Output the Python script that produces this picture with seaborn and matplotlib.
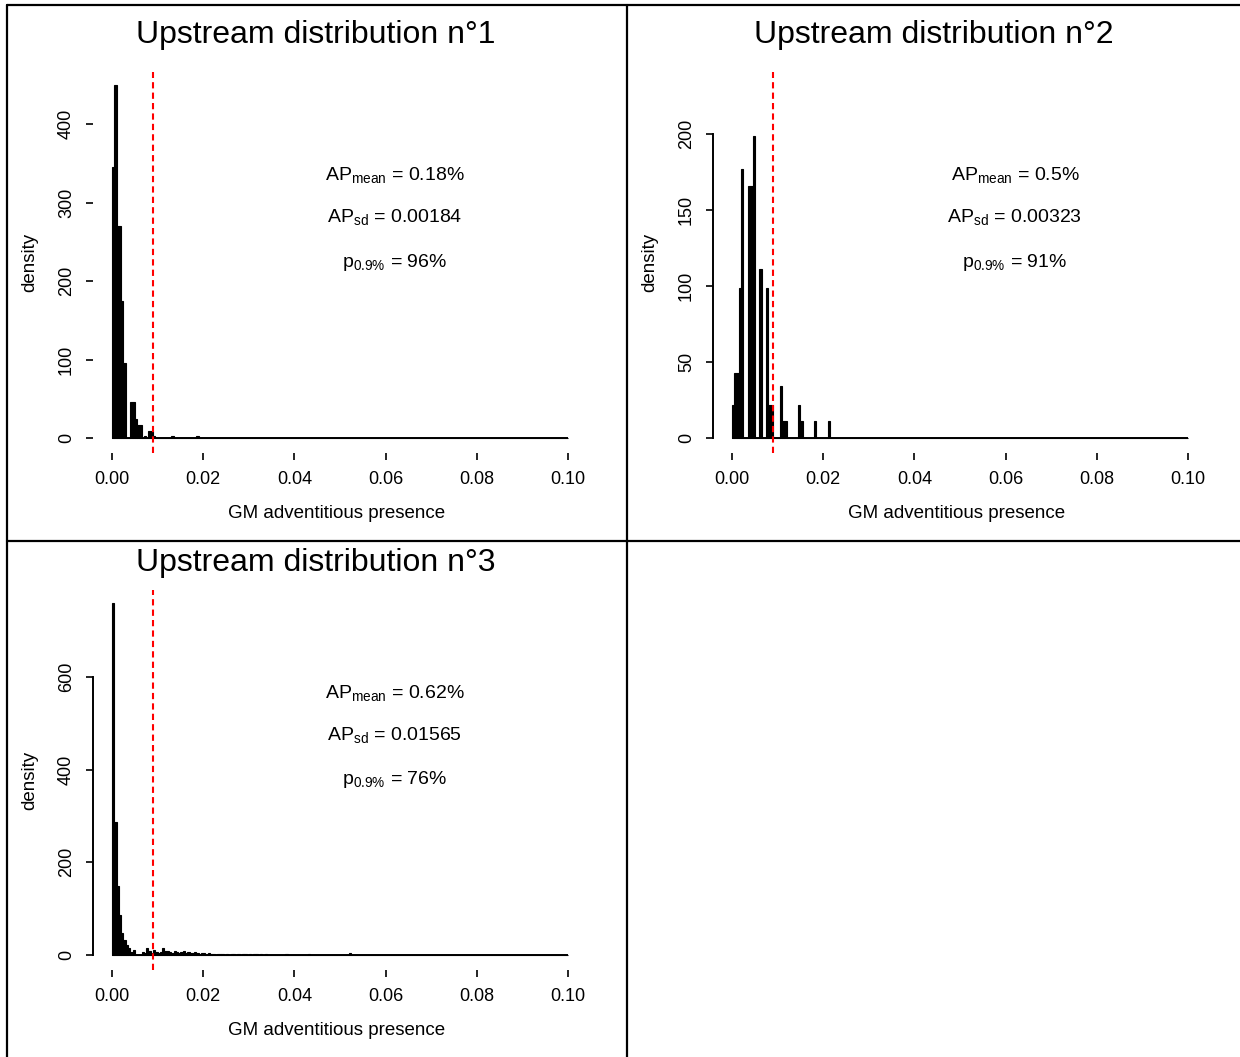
import numpy as np
import pandas as pd
import matplotlib
matplotlib.use("Agg")
import matplotlib.pyplot as plt
import seaborn as sns
from matplotlib.lines import Line2D

# ---------------- data ----------------
bin_width = 0.0005
x_ticks = [0.00, 0.02, 0.04, 0.06, 0.08, 0.10]
x_tick_labels = ["0.00", "0.02", "0.04", "0.06", "0.08", "0.10"]
threshold = 0.009

titles = ["Upstream distribution n°1", "Upstream distribution n°2", "Upstream distribution n°3"]

# panel 1 (bin index of 0.0005-wide bins -> density)
p1_bin_index = [0, 1, 2, 3, 4, 5, 8, 9, 10, 11, 12, 14, 16, 17, 18, 26, 37]
p1_density = [345, 450, 270, 270, 175, 96, 46, 46, 24, 17, 17, 3, 9, 9, 3, 2, 2]
p1_yticks = [0, 100, 200, 300, 400]
p1_stats = ["0.18%", "0.00184", "96%"]

# panel 2
p2_bin_index = [0, 1, 2, 3, 4, 7, 8, 9, 12, 15, 16, 17, 21, 22, 23, 29, 30, 36, 42]
p2_density = [22, 43, 43, 99, 177, 166, 166, 199, 111, 99, 22, 22, 34, 11, 11, 22, 11, 11, 11]
p2_yticks = [0, 50, 100, 150, 200]
p2_stats = ["0.5%", "0.00323", "91%"]

# panel 3
p3_bin_index = [0, 1, 2, 3, 4, 5, 6, 7, 8, 9, 13, 14, 15, 16, 17, 18, 19, 20, 21, 22,
                23, 24, 25, 26, 27, 28, 29, 30, 31, 32, 33, 34, 35, 36, 37, 38, 39, 40,
                41, 42, 43, 44, 46, 47, 48, 50, 52, 53, 55, 57, 58, 60, 62, 63, 65, 67,
                76, 86, 104]
p3_density = [759, 286, 150, 86, 47, 32, 21, 15, 6, 11, 6, 4, 15, 8, 4, 11, 6, 4, 6, 15,
              8, 8, 6, 4, 8, 6, 4, 6, 8, 4, 6, 5, 4, 6, 4, 3, 4, 5,
              3, 4, 3, 3, 3, 3, 3, 3, 3, 3, 3, 3, 3, 3, 3, 3, 3, 3,
              3, 3, 4]
p3_yticks = [0, 200, 400, 600]
p3_stats = ["0.62%", "0.01565", "76%"]

# ---------------- style ----------------
sns.set_theme(style="white")
plt.rcParams["font.family"] = ["Liberation Sans", "DejaVu Sans"]
plt.rcParams["mathtext.default"] = "regular"
plt.rcParams["text.color"] = "black"
plt.rcParams["axes.labelcolor"] = "black"
plt.rcParams["xtick.color"] = "black"
plt.rcParams["ytick.color"] = "black"

W, H = 1240, 1057
fig = plt.figure(figsize=(W / 100, H / 100), dpi=100)
fig.patch.set_facecolor("white")


def px_rect(left, right, top, bottom):
    return [left / W, 1 - bottom / H, (right - left) / W, (bottom - top) / H]


# x mapping: 0 -> +19 px from axes left, 4560 px per unit
xlim = ((0 - 19) / 4560, (487 - 19) / 4560)

panels = [
    dict(rect=px_rect(93, 580, 72, 453), idx=p1_bin_index, dens=p1_density,
         yticks=p1_yticks, ylim=(-15 / 0.785, 366 / 0.785), stats=p1_stats,
         spine=False, title_xy=(316, 35)),
    dict(rect=px_rect(713, 1200, 72, 453), idx=p2_bin_index, dens=p2_density,
         yticks=p2_yticks, ylim=(-15 / 1.52, 366 / 1.52), stats=p2_stats,
         spine=True, title_xy=(934, 35)),
    dict(rect=px_rect(93, 580, 590, 970), idx=p3_bin_index, dens=p3_density,
         yticks=p3_yticks, ylim=(-15 / 0.4633, 365 / 0.4633), stats=p3_stats,
         spine=True, title_xy=(316, 563)),
]

for i, p in enumerate(panels):
    ax = fig.add_axes(p["rect"])
    df = pd.DataFrame({
        "x": [k * bin_width + bin_width / 2 for k in p["idx"]],
        "w": p["dens"],
    })
    sns.histplot(data=df, x="x", weights="w", binwidth=bin_width, binrange=(0, 0.1),
                 ax=ax, color="black", edgecolor="black", linewidth=0.8, alpha=1.0)
    ax.hlines(0, 0, 0.1, color="black", lw=1.4)
    ax.axvline(threshold, color="red", lw=1.5, ls=(0, (3, 2)))

    ax.set_xlim(*xlim)
    ax.set_ylim(*p["ylim"])
    ax.set_facecolor("white")
    for s in ["top", "right", "bottom"]:
        ax.spines[s].set_visible(False)
    if p["spine"]:
        ax.spines["left"].set_visible(True)
        ax.spines["left"].set_color("black")
        ax.spines["left"].set_linewidth(1.4)
        ax.spines["left"].set_bounds(p["yticks"][0], p["yticks"][-1])
    else:
        ax.spines["left"].set_visible(False)

    ax.set_xticks(x_ticks)
    ax.set_xticklabels(x_tick_labels)
    ax.set_yticks(p["yticks"])
    ax.set_yticklabels([str(v) for v in p["yticks"]], rotation=90, va="center")
    ax.tick_params(axis="x", direction="out", length=5, width=1.2, color="black",
                   labelcolor="black", pad=8, labelsize=13, bottom=True)
    ax.tick_params(axis="y", direction="out", length=5, width=1.2, color="black",
                   labelcolor="black", pad=8, labelsize=13, left=True)
    ax.set_xlabel("GM adventitious presence", fontsize=13.5, labelpad=12, color="black")
    ax.set_ylabel("density", fontsize=13.5, labelpad=14, color="black")
    ax.grid(False)

    m, sd, pr = p["stats"]
    ax.text(0.62, 0.73, "AP$_{mean}$ = " + m, transform=ax.transAxes,
            ha="center", va="center", fontsize=14, color="black")
    ax.text(0.62, 0.619, "AP$_{sd}$ = " + sd, transform=ax.transAxes,
            ha="center", va="center", fontsize=14, color="black")
    ax.text(0.62, 0.50, "p$_{0.9\\%}$ = " + pr, transform=ax.transAxes,
            ha="center", va="center", fontsize=14, color="black")

    tx, ty = p["title_xy"]
    fig.text(tx / W, 1 - ty / H, titles[i], ha="center", va="center",
             fontsize=23, color="black")

# table borders
def pline(x0, y0, x1, y1):
    fig.add_artist(Line2D([x0 / W, x1 / W], [1 - y0 / H, 1 - y1 / H],
                          transform=fig.transFigure, color="black", lw=1.6))

pline(7, 5, W, 5)
pline(7, 5, 7, H)
pline(627, 5, 627, H)
pline(7, 541, W, 541)

fig.savefig("out.png", dpi=100, facecolor="white")
